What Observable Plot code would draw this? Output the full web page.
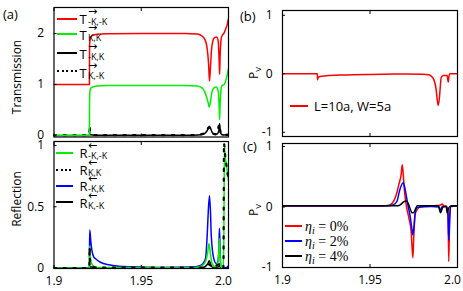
<!DOCTYPE html>
<html><head><meta charset="utf-8">
<script src="https://cdn.jsdelivr.net/npm/d3@7"></script>
<script src="https://cdn.jsdelivr.net/npm/@observablehq/plot@0.6"></script>
<style>
body{margin:0;background:#fff}
#c{position:relative;width:463px;height:291px;overflow:hidden;font-family:'Open Sans',sans-serif;color:#000}
#c svg{position:absolute}
.t{position:absolute;white-space:nowrap;line-height:1}
.rot{transform:translate(-50%,-50%) rotate(-90deg)}
.lgl{position:absolute;height:0}
.lgt{position:absolute;white-space:nowrap;font-size:13px;line-height:11px;transform:translateY(-50%)}
.sb{font-size:9px;line-height:7px}
.ar{font-family:'DejaVu Sans',sans-serif;font-size:11px;line-height:5px}
.eta{font-family:'Liberation Serif',serif;font-size:14px;line-height:13px}
</style></head><body><div id="c"></div>
<script>
// ---- ticks ----
const X_TICKS = [1.9, 1.95, 2.0];
const X_TICK_LABELS = ["1.9", "1.95", "2.0"];
const T_TICKS = [0, 1, 2];
const T_TICK_LABELS = ["0", "1", "2"];
const R_TICKS = [0, 0.5, 1];
const R_TICK_LABELS = ["0", "0.5", "1"];
const PV_TICKS = [-1, 0, 1];
const PV_TICK_LABELS = ["-1", "0", "1"];

// ---- legend labels ----
const T_KEYS = ["-K,-K", "K,K", "-K,K", "K,-K"];
const R_KEYS = ["-K,-K", "K,K", "-K,K", "K,-K"];
const B_LABEL = "L=10a, W=5a";
const ETA_LABELS = ["0%", "2%", "4%"];

// ---- (a) transmission ----
const T_mKmK = [[1.9,1.0],[1.9203,1.0],[1.92035,1.5],[1.9204,1.75],[1.9206,1.86],[1.921,1.92],[1.922,1.96],[1.925,1.985],[1.93,1.995],[1.95,2.0],[1.975,2.0],[1.982,1.99],[1.9845,1.96],[1.9865,1.88],[1.9878,1.7],[1.9886,1.4],[1.9891,1.07],[1.9896,1.3],[1.9902,1.65],[1.991,1.85],[1.992,1.92],[1.9932,1.93],[1.9941,1.85],[1.9946,1.5],[1.9949,1.2],[1.9952,1.55],[1.9958,1.9],[1.9965,1.97],[1.9973,2.0],[1.9985,2.1],[1.9993,2.18],[2.0,2.29]];
const T_KK = [[1.9,0],[1.9203,0],[1.92035,0.5],[1.9204,0.75],[1.9206,0.86],[1.921,0.92],[1.922,0.95],[1.925,0.97],[1.93,0.98],[1.975,0.98],[1.982,0.97],[1.985,0.93],[1.987,0.8],[1.9883,0.65],[1.9889,0.555],[1.9896,0.65],[1.9905,0.85],[1.9915,0.93],[1.993,0.95],[1.9942,0.85],[1.9946,0.6],[1.9949,0.31],[1.9952,0.6],[1.9957,0.9],[1.9963,0.98],[1.9975,1.0],[1.9988,1.12],[2.0,1.31]];
const T_mKK = [[1.9,0],[1.9203,0],[1.9205,0.03],[1.9212,0.015],[1.925,0.005],[1.98,0.005],[1.985,0.02],[1.987,0.06],[1.9885,0.14],[1.989,0.18],[1.9896,0.15],[1.9905,0.07],[1.9915,0.03],[1.9935,0.03],[1.9945,0.1],[1.9949,0.23],[1.9953,0.1],[1.996,0.02],[1.9975,0.01],[2.0,0.02]];
const T_KmK = [[1.9,0],[1.9203,0],[1.9204,0.2],[1.9207,0.06],[1.9215,0.02],[1.925,0.005],[1.98,0.005],[1.986,0.04],[1.989,0.16],[1.9905,0.05],[1.993,0.02],[1.9949,0.22],[1.9955,0.03],[2.0,0.01]];

// ---- (a) reflection ----
const R_mKmK = [[1.9,0],[1.9203,0],[1.92035,0.1],[1.9204,0.18],[1.9207,0.1],[1.9215,0.04],[1.9225,0.015],[1.925,0.005],[1.98,0.003],[1.985,0.02],[1.987,0.06],[1.988,0.12],[1.9888,0.2],[1.9896,0.12],[1.9905,0.04],[1.992,0.01],[1.9938,0.04],[1.9945,0.14],[1.9948,0.24],[1.9952,0.1],[1.9956,0.01],[1.997,0.0],[1.9973,0.2],[1.9975,0.6],[1.9977,1.0],[1.998,0.93],[1.999,0.82],[2.0,0.71]];
const R_KK = [[1.9,0],[1.9203,0],[1.9204,0.17],[1.9207,0.05],[1.9215,0.015],[1.925,0.003],[1.986,0.003],[1.989,0.03],[1.9905,0.005],[1.9949,0.03],[1.9955,0.003],[1.9971,0],[1.9972,0.3],[1.9973,0.7],[1.9974,1.02],[1.998,0.93],[1.999,0.82],[2.0,0.71]];
const R_mKK = [[1.9,0],[1.9203,0],[1.92035,0.15],[1.9205,0.31],[1.9212,0.2],[1.9219,0.13],[1.9228,0.09],[1.9238,0.075],[1.9266,0.047],[1.9314,0.026],[1.9371,0.015],[1.945,0.01],[1.96,0.005],[1.98,0.008],[1.984,0.02],[1.9868,0.075],[1.9878,0.27],[1.9884,0.46],[1.9891,0.59],[1.9897,0.45],[1.9901,0.27],[1.9916,0.075],[1.9931,0.035],[1.994,0.06],[1.9945,0.15],[1.9948,0.325],[1.9952,0.15],[1.9956,0.01],[1.997,0],[1.999,0.005],[2.0,0.02]];
const R_KmK = [[1.9,0],[1.9203,0],[1.9205,0.01],[1.925,0.002],[1.985,0.003],[1.988,0.03],[1.989,0.06],[1.9898,0.03],[1.991,0.005],[1.9945,0.01],[1.9949,0.035],[1.9953,0.005],[2.0,0.0]];

// ---- (b) ----
const PV_B = [[1.9,0],[1.9199,0],[1.92,-0.1],[1.9203,-0.07],[1.921,-0.05],[1.925,-0.035],[1.935,-0.02],[1.95,-0.01],[1.97,-0.005],[1.98,-0.008],[1.9836,-0.015],[1.9846,-0.03],[1.9865,-0.1],[1.9878,-0.27],[1.9884,-0.44],[1.989,-0.54],[1.9897,-0.4],[1.9903,-0.17],[1.9907,-0.06],[1.992,-0.03],[1.9941,-0.03],[1.9947,-0.14],[1.9951,-0.05],[1.9956,0],[2.0,0]];

// ---- (c) ----
const PV_0 = [[1.9,0.015],[1.955,0.015],[1.96,0.025],[1.9617,0.04],[1.9636,0.1],[1.9651,0.21],[1.9665,0.375],[1.9678,0.54],[1.9684,0.7],[1.969,0.54],[1.9697,0.26],[1.9709,0],[1.9722,-0.18],[1.9735,-0.4],[1.9745,-0.84],[1.975,-0.5],[1.9758,-0.12],[1.977,-0.04],[1.979,0.01],[1.985,0.02],[1.99,0.03],[1.9913,0.05],[1.992,0.02],[1.9938,0.01],[1.9946,-0.1],[1.995,-0.9],[1.9955,-0.2],[1.996,0.01],[2.0,0.015]];
const PV_2 = [[1.9,0.02],[1.96,0.02],[1.9635,0.04],[1.9655,0.1],[1.9668,0.26],[1.969,0.4],[1.9703,0.26],[1.9716,0.04],[1.9731,-0.18],[1.9741,-0.4],[1.9745,-0.46],[1.9752,-0.3],[1.9758,-0.1],[1.977,-0.01],[1.985,0.01],[1.9895,0.0],[1.9903,-0.07],[1.991,0],[1.9935,0.01],[1.9945,-0.1],[1.995,-0.55],[1.9956,-0.15],[1.9962,0.02],[2.0,0.02]];
const PV_4 = [[1.9,0.02],[1.966,0.02],[1.9675,0.04],[1.969,0.08],[1.9708,0.1],[1.972,0.05],[1.9732,-0.05],[1.974,-0.095],[1.975,-0.09],[1.9762,-0.02],[1.977,0.02],[1.989,0.02],[1.9897,-0.04],[1.9903,-0.095],[1.991,-0.05],[1.9918,0.01],[1.9935,0.01],[1.9941,-0.1],[1.9946,-0.05],[1.9955,0.01],[2.0,0.02]];

const RED="#ff0000", GREEN="#00f000", BLUE="#0000ff", BLACK="#000000";
const root = document.getElementById("c");

function line(data, stroke, dotted) {
  return Plot.line(data, {x: d => d[0], y: d => d[1], stroke, strokeWidth: dotted ? 2.2 : 1.5,
    strokeDasharray: dotted ? "2.2,7.5" : null, curve: "monotone-x", clip: true});
}

function panel(o) {
  const ylab = new Map(o.yTicks.map((t, i) => [t, o.yLabels[i]]));
  const xlab = new Map(X_TICKS.map((t, i) => [t, X_TICK_LABELS[i]]));
  const marks = [
    ...o.lines,
    Plot.frame({stroke: "#000", strokeWidth: 1.2}),
    Plot.axisY(o.yTicks, {anchor: "left", tickSize: -3, tickFormat: () => "", label: null}),
    Plot.axisY(o.yTicks, {anchor: "left", tickSize: 0, tickPadding: 10, tickFormat: d => ylab.get(d), label: null, fontSize: 12}),
    Plot.axisX(X_TICKS, {anchor: "top", tickSize: -3, tickFormat: () => "", label: null}),
    Plot.axisX(X_TICKS, {anchor: "bottom", tickSize: -3, tickFormat: () => "", label: null})
  ];
  if (o.showX) {
    marks.push(Plot.axisX(X_TICKS.slice(0, 2), {anchor: "bottom", tickSize: 0, tickPadding: 8, tickFormat: d => xlab.get(d), label: null, fontSize: 12}));
    marks.push(Plot.axisX(X_TICKS.slice(2), {anchor: "bottom", tickSize: 0, tickPadding: 8, dx: -5, tickFormat: d => xlab.get(d), label: null, fontSize: 12}));
  }
  const svg = Plot.plot({
    width: o.width, height: o.height,
    marginLeft: o.mL, marginRight: o.mR, marginTop: o.mT, marginBottom: o.mB,
    x: {domain: [1.9, 2.0]},
    y: {domain: o.yDomain},
    style: {fontFamily: "'Open Sans', sans-serif", fontSize: "12px", background: "transparent", overflow: "visible", color: "#000"},
    marks
  });
  svg.style.left = o.left + "px";
  svg.style.top = o.top + "px";
  root.appendChild(svg);
}

panel({left: 0, top: 0, width: 232, height: 140, mL: 53.5, mR: 4, mT: 7, mB: 3.5,
  yDomain: [-0.03, 2.51], yTicks: T_TICKS, yLabels: T_TICK_LABELS, showX: false,
  lines: [line(T_mKK, BLACK), line(T_KmK, BLACK, true), line(T_mKmK, RED), line(T_KK, GREEN)]});
panel({left: 0, top: 138, width: 232, height: 153, mL: 53.5, mR: 4, mT: 3, mB: 23,
  yDomain: [-0.004, 1.033], yTicks: R_TICKS, yLabels: R_TICK_LABELS, showX: true,
  lines: [line(R_KmK, BLACK), line(R_mKK, BLUE), line(R_mKmK, GREEN), line(R_KK, BLACK, true)]});
panel({left: 232, top: 0, width: 231, height: 140, mL: 50, mR: 6, mT: 10, mB: 4,
  yDomain: [-1.072, 1.082], yTicks: PV_TICKS, yLabels: PV_TICK_LABELS, showX: false,
  lines: [line(PV_B, RED)]});
panel({left: 232, top: 138, width: 231, height: 153, mL: 50, mR: 6, mT: 5, mB: 24,
  yDomain: [-1.0, 1.05], yTicks: PV_TICKS, yLabels: PV_TICK_LABELS, showX: true,
  lines: [line(PV_0, RED), line(PV_2, BLUE), line(PV_4, BLACK)]});

// ---- text ----
function addText(html, left, top, cls, extra) {
  const d = document.createElement("div");
  d.className = "t " + (cls || "");
  d.innerHTML = html;
  d.style.left = left + "px"; d.style.top = top + "px";
  if (extra) Object.assign(d.style, extra);
  root.appendChild(d);
  return d;
}
addText("(a)", 3, 8, "", {fontSize: "13px"});
addText("(b)", 240, 10, "", {fontSize: "13px"});
addText("(c)", 243, 140, "", {fontSize: "13px"});
addText("Transmission", 17, 77, "rot", {fontSize: "12px"});
addText("Reflection", 17, 199, "rot", {fontSize: "12px"});
addText("P<sub style='font-size:8px'>V</sub>", 255, 73, "rot", {fontSize: "12px"});
addText("P<sub style='font-size:8px'>V</sub>", 255, 210, "rot", {fontSize: "12px"});

function legendLine(x, y, w, color, dotted) {
  const d = document.createElement("div");
  d.className = "lgl";
  d.style.left = x + "px"; d.style.top = (y - 1) + "px"; d.style.width = w + "px";
  d.style.height = "2px";
  d.style.background = dotted ? `repeating-linear-gradient(to right, ${color} 0 2px, transparent 2px 4.5px)` : color;
  root.appendChild(d);
}
function legendText(html, x, y, cls) {
  const d = document.createElement("div");
  d.className = "lgt " + (cls || "");
  d.innerHTML = html;
  d.style.left = x + "px"; d.style.top = y + "px";
  root.appendChild(d);
  return d;
}
function symbol(main, sub, arrow, x, y) {
  legendText(main, x, y);
  legendText(sub, x + 8.5, y + 2, "sb");
  legendText(arrow, x + 8.5, y - 8, "ar");
}

const tCols = [[RED, false], [GREEN, false], [BLACK, false], [BLACK, true]];
const tLineY = [19.3, 34, 53.3, 71];
const tTextY = [18.5, 35, 53.5, 72.5];
T_KEYS.forEach((k, i) => { legendLine(57, tLineY[i], 20, tCols[i][0], tCols[i][1]); symbol("T", k, "→", 79.5, tTextY[i]); });
const rCols = [[GREEN, false], [BLACK, true], [BLUE, false], [BLACK, false]];
const rLineY = [153.3, 170, 186, 202.3];
const rTextY = [152.5, 169.5, 186, 202.5];
R_KEYS.forEach((k, i) => { legendLine(56, rLineY[i], 17, rCols[i][0], rCols[i][1]); symbol("R", k, "←", 79.5, rTextY[i]); });

legendLine(290, 106, 18, RED, false);
legendText(B_LABEL, 314, 106);

const eCols = [RED, BLUE, BLACK];
const eY = [225.7, 240.5, 255.5];
ETA_LABELS.forEach((l, i) => { legendLine(285, eY[i], 17, eCols[i], false); legendText(`<i>η</i><sub style="font-size:10px;line-height:0"><i>i</i></sub> = ${l}`, 305, eY[i], "eta"); });
</script>
</body></html>
